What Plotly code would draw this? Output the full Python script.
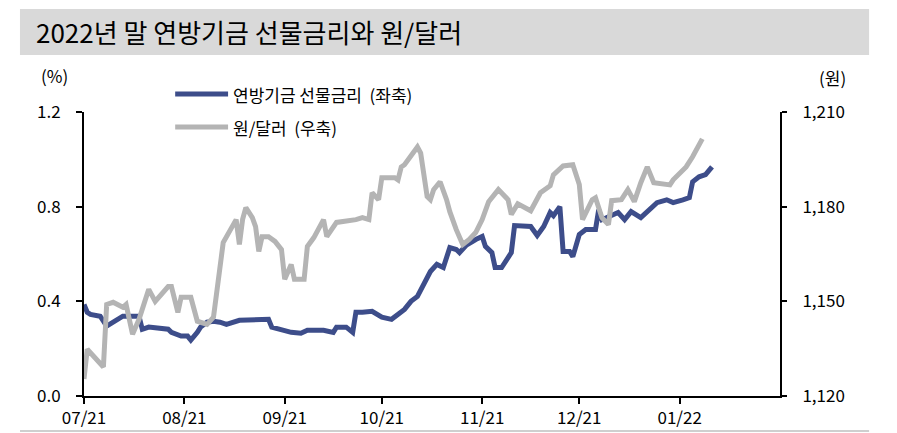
import plotly.graph_objects as go

# 연방기금 선물금리 (%), 좌축
ffr_dates = [
    "2021-07-01", "2021-07-02", "2021-07-03", "2021-07-06", "2021-07-08", "2021-07-11",
    "2021-07-13", "2021-07-18", "2021-07-19", "2021-07-21", "2021-07-27", "2021-07-28",
    "2021-07-31", "2021-08-02", "2021-08-03", "2021-08-05", "2021-08-06", "2021-08-08",
    "2021-08-10", "2021-08-12", "2021-08-14", "2021-08-18", "2021-08-27", "2021-08-28",
    "2021-08-31", "2021-09-03", "2021-09-06", "2021-09-08", "2021-09-13", "2021-09-16",
    "2021-09-17", "2021-09-20", "2021-09-22", "2021-09-23", "2021-09-25", "2021-09-28",
    "2021-10-01", "2021-10-04", "2021-10-08", "2021-10-10", "2021-10-12", "2021-10-14",
    "2021-10-16", "2021-10-18", "2021-10-20", "2021-10-22", "2021-10-24", "2021-10-25",
    "2021-10-27", "2021-10-30", "2021-11-01", "2021-11-02", "2021-11-04", "2021-11-05",
    "2021-11-07", "2021-11-09", "2021-11-10", "2021-11-11", "2021-11-14", "2021-11-16",
    "2021-11-18", "2021-11-20", "2021-11-22", "2021-11-23", "2021-11-25", "2021-11-26",
    "2021-11-28", "2021-11-29", "2021-12-01", "2021-12-03", "2021-12-06", "2021-12-07",
    "2021-12-08", "2021-12-10", "2021-12-13", "2021-12-15", "2021-12-17", "2021-12-20",
    "2021-12-22", "2021-12-25", "2021-12-28", "2021-12-30", "2022-01-02", "2022-01-04",
    "2022-01-05", "2022-01-07", "2022-01-09", "2022-01-11",
]
ffr_values = [
    0.387, 0.354, 0.345, 0.337, 0.295, 0.324,
    0.337, 0.337, 0.282, 0.291, 0.282, 0.269,
    0.253, 0.253, 0.236, 0.269, 0.291, 0.312,
    0.316, 0.312, 0.303, 0.320, 0.324, 0.291,
    0.278, 0.269, 0.265, 0.278, 0.278, 0.269,
    0.291, 0.291, 0.269, 0.354, 0.354, 0.358,
    0.333, 0.324, 0.366, 0.400, 0.421, 0.472,
    0.526, 0.556, 0.543, 0.627, 0.619, 0.606,
    0.636, 0.661, 0.674, 0.632, 0.606, 0.543,
    0.543, 0.585, 0.606, 0.720, 0.716, 0.716,
    0.678, 0.716, 0.775, 0.762, 0.800, 0.611,
    0.611, 0.589, 0.682, 0.703, 0.703, 0.787,
    0.745, 0.758, 0.775, 0.745, 0.779, 0.754,
    0.779, 0.817, 0.829, 0.817, 0.829, 0.838,
    0.905, 0.926, 0.935, 0.968,
]

# 원/달러 (원), 우축
krw_dates = [
    "2021-07-01", "2021-07-02", "2021-07-07", "2021-07-08", "2021-07-10", "2021-07-13",
    "2021-07-14", "2021-07-16", "2021-07-18", "2021-07-21", "2021-07-23", "2021-07-27",
    "2021-07-28", "2021-07-30", "2021-07-31", "2021-08-03", "2021-08-05", "2021-08-08",
    "2021-08-10", "2021-08-12", "2021-08-13", "2021-08-17", "2021-08-18", "2021-08-19",
    "2021-08-20", "2021-08-22", "2021-08-23", "2021-08-24", "2021-08-25", "2021-08-27",
    "2021-08-29", "2021-08-31", "2021-09-01", "2021-09-03", "2021-09-04", "2021-09-07",
    "2021-09-08", "2021-09-10", "2021-09-13", "2021-09-14", "2021-09-17", "2021-09-23",
    "2021-09-25", "2021-09-27", "2021-09-28", "2021-09-30", "2021-10-01", "2021-10-05",
    "2021-10-06", "2021-10-07", "2021-10-08", "2021-10-12", "2021-10-13", "2021-10-15",
    "2021-10-16", "2021-10-17", "2021-10-19", "2021-10-21", "2021-10-22", "2021-10-24",
    "2021-10-26", "2021-10-28", "2021-10-30", "2021-11-01", "2021-11-03", "2021-11-06",
    "2021-11-07", "2021-11-09", "2021-11-10", "2021-11-12", "2021-11-16", "2021-11-19",
    "2021-11-22", "2021-11-23", "2021-11-26", "2021-11-29", "2021-12-01", "2021-12-02",
    "2021-12-05", "2021-12-06", "2021-12-08", "2021-12-10", "2021-12-11", "2021-12-14",
    "2021-12-16", "2021-12-18", "2021-12-20", "2021-12-22", "2021-12-24", "2021-12-29",
    "2021-12-30", "2022-01-03", "2022-01-05", "2022-01-08",
]
krw_values = [
    1125.4, 1134.8, 1129.2, 1149.0, 1149.7, 1148.1,
    1149.0, 1139.6, 1144.3, 1153.8, 1150.0, 1154.7,
    1154.7, 1146.5, 1151.3, 1151.3, 1143.7, 1142.7,
    1145.0, 1159.2, 1168.6, 1175.9, 1168.0, 1176.0,
    1179.7, 1176.5, 1173.7, 1165.8, 1170.5, 1170.5,
    1169.0, 1166.4, 1157.0, 1161.7, 1157.0, 1157.0,
    1167.4, 1170.2, 1175.9, 1170.5, 1175.0, 1175.9,
    1176.5, 1175.9, 1184.4, 1182.2, 1189.2, 1189.2,
    1188.5, 1192.6, 1193.3, 1198.9, 1197.0, 1183.2,
    1182.2, 1185.4, 1187.9, 1182.2, 1178.4, 1172.7,
    1168.0, 1169.6, 1171.8, 1175.9, 1181.6, 1185.4,
    1184.4, 1182.2, 1177.5, 1180.9, 1178.7, 1184.4,
    1186.6, 1190.1, 1192.9, 1193.3, 1187.0, 1175.9,
    1182.2, 1182.8, 1176.5, 1174.3, 1181.9, 1182.2,
    1185.4, 1181.6, 1187.6, 1192.6, 1187.6, 1186.9,
    1188.5, 1192.6, 1195.8, 1201.5,
]

month_ticks = ["2021-07-01", "2021-08-01", "2021-09-01", "2021-10-01",
               "2021-11-01", "2021-12-01", "2022-01-01"]
month_labels = ["07/21", "08/21", "09/21", "10/21", "11/21", "12/21", "01/22"]
left_ticks = [0.0, 0.4, 0.8, 1.2]
right_ticks = [1120, 1150, 1180, 1210]

FONT = "Noto Sans CJK KR"
BLUE = "#3d4d8a"
GRAY = "#b4b4b4"

fig = go.Figure()
fig.add_trace(go.Scatter(
    x=krw_dates, y=krw_values, mode="lines", yaxis="y2",
    line=dict(color=GRAY, width=5), name="원/달러 (우축)",
))
fig.add_trace(go.Scatter(
    x=ffr_dates, y=ffr_values, mode="lines",
    line=dict(color=BLUE, width=5), name="연방기금 선물금리 (좌축)",
))

# title bar
fig.add_shape(type="rect", xref="paper", yref="paper",
              x0=-0.092, x1=1.128, y0=1.201, y1=1.363,
              fillcolor="#d9d9d9", line=dict(width=0), layer="below")
fig.add_annotation(text="2022년 말 연방기금 선물금리와 원/달러",
                   xref="paper", yref="paper", x=-0.072, y=1.282,
                   xanchor="left", yanchor="middle", showarrow=False,
                   font=dict(family=FONT, size=26, color="black"))
# bottom rule
fig.add_shape(type="line", xref="paper", yref="paper",
              x0=-0.092, x1=1.128, y0=-0.123, y1=-0.123,
              line=dict(color="#bfbfbf", width=1.5))

# legend drawn by hand
legend_items = [("연방기금 선물금리\u00a0 (좌축)", BLUE, 1.063),
                ("원/달러\u00a0 (우축)", GRAY, 0.947)]
for text, color, yy in legend_items:
    fig.add_shape(type="line", xref="paper", yref="paper",
                  x0=0.131, x1=0.207, y0=yy, y1=yy,
                  line=dict(color=color, width=5))
    fig.add_annotation(text=text, xref="paper", yref="paper",
                       x=0.211, y=yy, xanchor="left", yanchor="middle",
                       showarrow=False, font=dict(family=FONT, size=17, color="black"))

# unit labels
fig.add_annotation(text="(%)", xref="paper", yref="paper", x=-0.042, y=1.13,
                   xanchor="center", yanchor="middle",
                   showarrow=False, font=dict(family=FONT, size=17, color="black"))
fig.add_annotation(text="(원)", xref="paper", yref="paper", x=1.075, y=1.12,
                   xanchor="center", yanchor="middle",
                   showarrow=False, font=dict(family=FONT, size=17, color="black"))

# the page sits 8px in from the top-left, so margins are set to land the plot
# area where the reference has it
fig.update_layout(
    width=897, height=433,
    margin=dict(l=76, r=125, t=104, b=37),
    paper_bgcolor="white", plot_bgcolor="white",
    showlegend=False,
    font=dict(family=FONT, size=17, color="black"),
    xaxis=dict(
        type="date", range=["2021-07-01", "2022-02-01"],
        tickvals=month_ticks, ticktext=month_labels,
        showline=True, linecolor="black", linewidth=2,
        ticks="outside", ticklen=6, tickwidth=2, tickcolor="black",
        showgrid=False, zeroline=False,
    ),
    yaxis=dict(
        range=[0, 1.2], tickvals=left_ticks, tickformat=".1f",
        showline=True, linecolor="black", linewidth=2,
        ticks="outside", ticklen=6, tickwidth=2, tickcolor="black",
        ticklabelstandoff=12,
        showgrid=False, zeroline=False,
    ),
    yaxis2=dict(
        range=[1120, 1210], tickvals=right_ticks, tickformat=",",
        overlaying="y", side="right",
        showline=True, linecolor="black", linewidth=2,
        ticks="outside", ticklen=5, tickwidth=2, tickcolor="black",
        ticklabelstandoff=12,
        showgrid=False, zeroline=False,
    ),
)

fig.write_html("out.html")
